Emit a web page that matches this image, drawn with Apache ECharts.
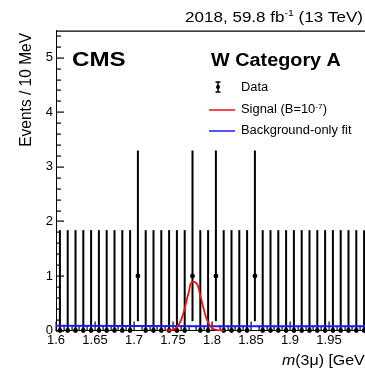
<!DOCTYPE html>
<html><head><meta charset="utf-8">
<script src="https://cdn.jsdelivr.net/npm/echarts@6/dist/echarts.min.js"></script>
<style>html,body{margin:0;padding:0;background:#fff}#c{width:365px;height:371px}</style>
</head><body><div id="c"></div>
<script>
// Bin centres (GeV), 10 MeV bins
const binCenters = [1.605,1.615,1.625,1.635,1.645,1.655,1.665,1.675,1.685,1.695,
  1.705,1.715,1.725,1.735,1.745,1.755,1.765,1.775,1.785,1.795,
  1.805,1.815,1.825,1.835,1.845,1.855,1.865,1.875,1.885,1.895,
  1.905,1.915,1.925,1.935,1.945,1.955,1.965,1.975,1.985,1.995];
const counts = [0,0,0,0,0,0,0,0,0,0,
  1,0,0,0,0,0,0,1,0,0,
  1,0,0,0,0,1,0,0,0,0,
  0,0,0,0,0,0,0,0,0,0];
const errLow = [0,0,0,0,0,0,0,0,0,0,
  0.83,0,0,0,0,0,0,0.83,0,0,
  0.83,0,0,0,0,0.83,0,0,0,0,
  0,0,0,0,0,0,0,0,0,0];
const errHigh = [1.84,1.84,1.84,1.84,1.84,1.84,1.84,1.84,1.84,1.84,
  2.3,1.84,1.84,1.84,1.84,1.84,1.84,2.3,1.84,1.84,
  2.3,1.84,1.84,1.84,1.84,2.3,1.84,1.84,1.84,1.84,
  1.84,1.84,1.84,1.84,1.84,1.84,1.84,1.84,1.84,1.84];
// Signal curve
const sigX = [1.740,1.745,1.750,1.755,1.760,1.765,1.770,1.775,1.780,1.785,1.790,1.795,1.800,1.805,1.810,1.815];
const sigY = [0.0,0.003,0.016,0.062,0.18,0.41,0.69,0.89,0.87,0.64,0.36,0.15,0.049,0.012,0.002,0.0];
// Background-only fit
const bkgX = [1.6,1.7,1.8,1.9,2.0];
const bkgY = [0.085,0.083,0.080,0.078,0.076];
const yTicks = [0,1,2,3,4,5];

const chart = echarts.init(document.getElementById('c'));
const FONT = 'Liberation Sans, Arial, sans-serif';
const dataPts = binCenters.map((x,i)=>[x,counts[i],errLow[i],errHigh[i]]);
const SX = 1.1; // horizontal stretch of the original canvas
const X0 = 1.6, X1 = 2.0, Y0 = 0, Y1 = 5.5;

// frame + inward ticks, drawn via the axes' scales
function frameElements(api){
  const els = [];
  const rect = (x,y,w,h)=>({type:'rect',shape:{x:x,y:y,width:w,height:h},style:{fill:'#000',stroke:null}});
  const tl = api.coord([X0,Y1]), br = api.coord([X1,Y0]);
  els.push(rect(Math.round(tl[0]), Math.round(tl[1])-0.5, br[0]-tl[0], 1.2));
  for (let i=0;i<=40;i++){
    const p = api.coord([X0+i*0.01, Y0]);
    const len = (i%5===0)?9:5;
    els.push(rect(Math.round(p[0])-0.5, p[1]-len, 1.2, len));
  }
  for (let i=0;i<=27;i++){
    const p = api.coord([X0, Y0+i*0.2]);
    const len = (i%5===0)?8:5;
    els.push(rect(p[0], Math.round(p[1])-0.5, len, 1.2));
  }
  return els;
}

chart.setOption({
  animation:false,
  textStyle:{fontFamily:FONT},
  grid:{left:56,top:30.5,right:-3,bottom:40.5,containLabel:false,outerBoundsMode:'none'},
  xAxis:{
    type:'value',min:X0,max:X1,interval:0.05,position:'bottom',
    axisLine:{show:true,onZero:false,lineStyle:{color:'#000',width:1}},
    axisTick:{show:false},minorTick:{show:false},
    splitLine:{show:false},minorSplitLine:{show:false},
    axisLabel:{show:true,color:'#000',fontSize:13,margin:3,fontFamily:FONT,
      formatter:v=>String(+v.toFixed(2))}
  },
  yAxis:{
    type:'value',min:Y0,max:Y1,interval:1,
    axisLine:{show:true,onZero:false,lineStyle:{color:'#000',width:1}},
    axisTick:{show:false},minorTick:{show:false},
    splitLine:{show:false},minorSplitLine:{show:false},
    axisLabel:{show:true,color:'#000',fontSize:13,margin:3,fontFamily:FONT,
      formatter:v=> yTicks.includes(v)?String(v):''}
  },
  series:[
    {type:'custom',data:dataPts,z:5,clip:false,
      renderItem:(params,api)=>{
        const x=api.value(0),y=api.value(1),lo=api.value(2),hi=api.value(3);
        const pLo=api.coord([x,y-lo]),pHi=api.coord([x,y+hi]),p=api.coord([x,y]);
        let ch=[
          {type:'line',shape:{x1:pLo[0],y1:pLo[1],x2:pHi[0],y2:pHi[1]},style:{stroke:'#000',lineWidth:2}},
          {type:'circle',shape:{cx:p[0],cy:p[1],r:2.4},style:{fill:'#000'}}
        ];
        if (params.dataIndex===0) ch = ch.concat(frameElements(api));
        return {type:'group',children:ch};
      }},
    {type:'line',data:bkgX.map((x,i)=>[x,bkgY[i]]),showSymbol:false,z:6,
      lineStyle:{color:'#1a1aff',width:2}},
    {type:'line',data:sigX.map((x,i)=>[x,sigY[i]]),showSymbol:false,smooth:true,z:7,
      lineStyle:{color:'#ee1111',width:1.8}}
  ],
  graphic:[
    {type:'text',x:185,y:17.5,scaleX:SX,style:{rich:{
        a:{fontSize:15.5,fontFamily:FONT,fill:'#000'},
        s:{fontSize:9.5,fontFamily:FONT,fill:'#000',verticalAlign:'top',padding:[0,0,9,0]}},
      text:'{a|2018, 59.8 fb}{s|-1}{a| (13 TeV)}',verticalAlign:'middle'}},
    {type:'text',x:26,y:33,rotation:Math.PI/2,scaleY:SX,style:{text:'Events / 10 MeV',fontSize:15.5,fontFamily:FONT,fill:'#000',align:'right',verticalAlign:'middle'}},
    {type:'text',x:72,y:60,scaleX:1.15,style:{text:'CMS',fontSize:21,fontWeight:'bold',fontFamily:FONT,fill:'#000',align:'left',verticalAlign:'middle'}},
    {type:'text',x:276,y:61.5,scaleX:SX,style:{text:'W Category A',fontSize:18,fontWeight:'bold',fontFamily:FONT,fill:'#000',align:'center',verticalAlign:'middle'}},
    // legend
    {type:'line',shape:{x1:218,y1:82,x2:218,y2:92},style:{stroke:'#000',lineWidth:1.5}},
    {type:'line',shape:{x1:215.5,y1:82,x2:220.5,y2:82},style:{stroke:'#000',lineWidth:1.5}},
    {type:'line',shape:{x1:215.5,y1:92,x2:220.5,y2:92},style:{stroke:'#000',lineWidth:1.5}},
    {type:'circle',shape:{cx:218,cy:87,r:2},style:{fill:'#000'}},
    {type:'text',x:241,y:87.5,scaleX:1.05,style:{text:'Data',fontSize:12.3,fontFamily:FONT,fill:'#000',verticalAlign:'middle'}},
    {type:'line',shape:{x1:209,y1:110,x2:235,y2:110},style:{stroke:'#ee1111',lineWidth:1.5}},
    {type:'text',x:241,y:110,scaleX:1.05,style:{rich:{
        a:{fontSize:12.3,fontFamily:FONT,fill:'#000'},
        s:{fontSize:8,fontFamily:FONT,fill:'#000',verticalAlign:'top',padding:[0,0,7,0]}},
      text:'{a|Signal (B=10}{s|-7}{a|)}',verticalAlign:'middle'}},
    {type:'line',shape:{x1:209,y1:131,x2:235,y2:131},style:{stroke:'#1a1aff',lineWidth:1.5}},
    {type:'text',x:241,y:131,scaleX:1.05,style:{text:'Background-only fit',fontSize:12.3,fontFamily:FONT,fill:'#000',verticalAlign:'middle'}},
    // x title
    {type:'text',x:282,y:361,scaleX:SX,style:{rich:{
        i:{fontSize:14.5,fontStyle:'italic',fontFamily:FONT,fill:'#000'},
        a:{fontSize:14.5,fontFamily:FONT,fill:'#000'}},
      text:'{i|m}{a|(3μ) [GeV]}',align:'left',verticalAlign:'middle'}}
  ]
});
</script></body></html>
